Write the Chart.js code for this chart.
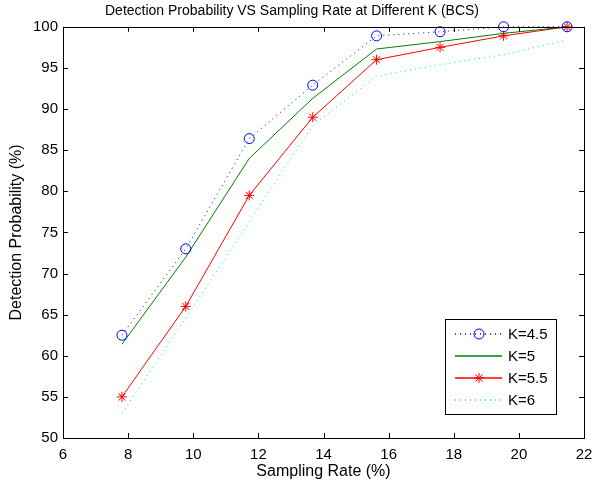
<!DOCTYPE html>
<html lang="en">
<head>
    <meta charset="UTF-8">
    <title>Detection Probability VS Sampling Rate</title>
    <script src="https://cdn.jsdelivr.net/npm/chart.js"></script>
    <style>
        * {
            margin: 0;
            padding: 0;
            box-sizing: border-box;
        }

        body {
            background: #ffffff;
        }

        .chart-container {
            position: relative;
            width: 592px;
            height: 485px;
        }
    </style>
</head>
<body>
    <div class="chart-container">
        <canvas id="detectionChart" width="592" height="485"></canvas>
    </div>

    <script>
        // values
        const samplingRate = [7.81, 9.77, 11.72, 13.67, 15.63, 17.58, 19.53, 21.48];
        const probK45 = [62.5, 73, 86.4, 92.9, 98.9, 99.4, 100, 100];
        const probK5 = [61.4, 72, 84, 91.3, 97.3, 98.2, 99.2, 100];
        const probK55 = [55, 66, 79.5, 89, 96, 97.5, 98.9, 100];
        const probK6 = [53, 64.6, 76.3, 88, 94, 95.4, 96.6, 98.4];
        const seriesLabels = ['K=4.5', 'K=5', 'K=5.5', 'K=6'];
        const xTicks = [6, 8, 10, 12, 14, 16, 18, 20, 22];
        const yTicks = [50, 55, 60, 65, 70, 75, 80, 85, 90, 95, 100];

        const FONT = "'Liberation Sans', Arial, sans-serif";
        const BLUE = '#0000ff', GREEN = '#008000', RED = '#ff0000', CYAN = '#00e0e0';

        function toPoints(ys) {
            return samplingRate.map((x, i) => ({ x: x, y: ys[i] }));
        }

        // MATLAB style box with inward ticks on all four sides
        const boxPlugin = {
            id: 'matlabBox',
            afterDraw(chart) {
                const { ctx, chartArea: a, scales } = chart;
                ctx.save();
                ctx.strokeStyle = '#000';
                ctx.lineWidth = 1;
                ctx.beginPath();
                xTicks.forEach(v => {
                    const px = Math.round(scales.x.getPixelForValue(v)) + 0.5;
                    ctx.moveTo(px, a.bottom);
                    ctx.lineTo(px, a.bottom - 5);
                    ctx.moveTo(px, a.top);
                    ctx.lineTo(px, a.top + 5);
                });
                yTicks.forEach(v => {
                    const py = Math.round(scales.y.getPixelForValue(v)) + 0.5;
                    ctx.moveTo(a.left, py);
                    ctx.lineTo(a.left + 5, py);
                    ctx.moveTo(a.right, py);
                    ctx.lineTo(a.right - 5, py);
                });
                ctx.stroke();
                ctx.strokeRect(Math.round(a.left) + 0.5, Math.round(a.top) + 0.5,
                    Math.round(a.right - a.left), Math.round(a.bottom - a.top));
                ctx.restore();
            }
        };

        // legend box in lower right, like the original
        const legendItems = [
            { color: BLUE, dash: [1, 4], marker: 'circle' },
            { color: GREEN, dash: [], marker: null },
            { color: RED, dash: [], marker: 'star' },
            { color: CYAN, dash: [1, 4], marker: null }
        ];

        const legendPlugin = {
            id: 'matlabLegend',
            afterDraw(chart) {
                const ctx = chart.ctx;
                const a = chart.chartArea;
                const boxW = 111, boxH = 95;
                const bx = Math.round(a.right) - 28 - boxW;
                const by = Math.round(a.bottom) - 24 - boxH;
                ctx.save();
                ctx.fillStyle = '#fff';
                ctx.fillRect(bx, by, boxW, boxH);
                ctx.strokeStyle = '#000';
                ctx.lineWidth = 1;
                ctx.strokeRect(bx + 0.5, by + 0.5, boxW, boxH);

                legendItems.forEach((item, i) => {
                    const y = by + 15 + i * 22;
                    ctx.beginPath();
                    ctx.setLineDash(item.dash);
                    ctx.strokeStyle = item.color;
                    ctx.lineWidth = 1.5;
                    ctx.moveTo(bx + 10, y);
                    ctx.lineTo(bx + 57, y);
                    ctx.stroke();
                    ctx.setLineDash([]);
                    if (item.marker) {
                        ctx.fillStyle = 'rgba(0,0,0,0)';
                        ctx.strokeStyle = item.color;
                        ctx.lineWidth = 1;
                        Chart.helpers.drawPoint(ctx, {
                            pointStyle: item.marker,
                            radius: 5,
                            rotation: 0,
                            borderWidth: 1
                        }, bx + 34, y);
                    }
                    ctx.fillStyle = '#000';
                    ctx.font = '15px ' + FONT;
                    ctx.textAlign = 'left';
                    ctx.textBaseline = 'middle';
                    ctx.fillText(seriesLabels[i], bx + 63, y + 1);
                });
                ctx.restore();
            }
        };

        const ctx = document.getElementById('detectionChart').getContext('2d');
        const detectionChart = new Chart(ctx, {
            type: 'line',
            data: {
                datasets: [{
                    label: seriesLabels[0],
                    data: toPoints(probK45),
                    borderColor: BLUE,
                    borderWidth: 1,
                    borderDash: [1, 4],
                    pointStyle: 'circle',
                    pointRadius: 5,
                    pointBorderColor: BLUE,
                    pointBackgroundColor: 'rgba(0,0,0,0)',
                    pointBorderWidth: 1,
                    clip: false
                },
                {
                    label: seriesLabels[1],
                    data: toPoints(probK5),
                    borderColor: GREEN,
                    borderWidth: 1,
                    pointRadius: 0,
                    clip: false
                },
                {
                    label: seriesLabels[2],
                    data: toPoints(probK55),
                    borderColor: RED,
                    borderWidth: 1,
                    pointStyle: 'star',
                    pointRadius: 5,
                    pointBorderColor: RED,
                    pointBackgroundColor: RED,
                    pointBorderWidth: 1,
                    clip: false
                },
                {
                    label: seriesLabels[3],
                    data: toPoints(probK6),
                    borderColor: CYAN,
                    borderWidth: 1,
                    borderDash: [1, 4],
                    pointRadius: 0,
                    clip: false
                }]
            },
            options: {
                responsive: false,
                animation: false,
                events: [],
                layout: {
                    padding: { left: 0, right: 8, top: 0, bottom: 0 }
                },
                plugins: {
                    legend: { display: false },
                    tooltip: { enabled: false },
                    title: {
                        display: true,
                        text: 'Detection Probability VS Sampling Rate at Different K (BCS)',
                        color: '#000',
                        font: { family: FONT, size: 14, weight: 'normal' },
                        padding: { top: 3, bottom: 7 }
                    }
                },
                scales: {
                    x: {
                        type: 'linear',
                        min: 6,
                        max: 22,
                        afterBuildTicks: scale => {
                            scale.ticks = xTicks.map(v => ({ value: v }));
                        },
                        afterFit: scale => {
                            scale.height = 47;
                            scale.paddingLeft = 0;
                            scale.paddingRight = 0;
                        },
                        grid: { display: false, drawTicks: false },
                        border: { display: false },
                        ticks: {
                            color: '#000',
                            padding: 8,
                            maxRotation: 0,
                            font: { family: FONT, size: 15 }
                        },
                        title: {
                            display: true,
                            text: 'Sampling Rate (%)',
                            color: '#000',
                            font: { family: FONT, size: 16 },
                            padding: { top: 0, bottom: 4 }
                        }
                    },
                    y: {
                        type: 'linear',
                        min: 50,
                        max: 100,
                        afterBuildTicks: scale => {
                            scale.ticks = yTicks.map(v => ({ value: v }));
                        },
                        afterFit: scale => { scale.width = 63; },
                        grid: { display: false, drawTicks: false },
                        border: { display: false },
                        ticks: {
                            color: '#000',
                            padding: 5,
                            font: { family: FONT, size: 15 }
                        },
                        title: {
                            display: true,
                            text: 'Detection Probability (%)',
                            color: '#000',
                            font: { family: FONT, size: 16 },
                            padding: { top: 7, bottom: 0 }
                        }
                    }
                }
            },
            plugins: [boxPlugin, legendPlugin]
        });
    </script>
</body>
</html>
